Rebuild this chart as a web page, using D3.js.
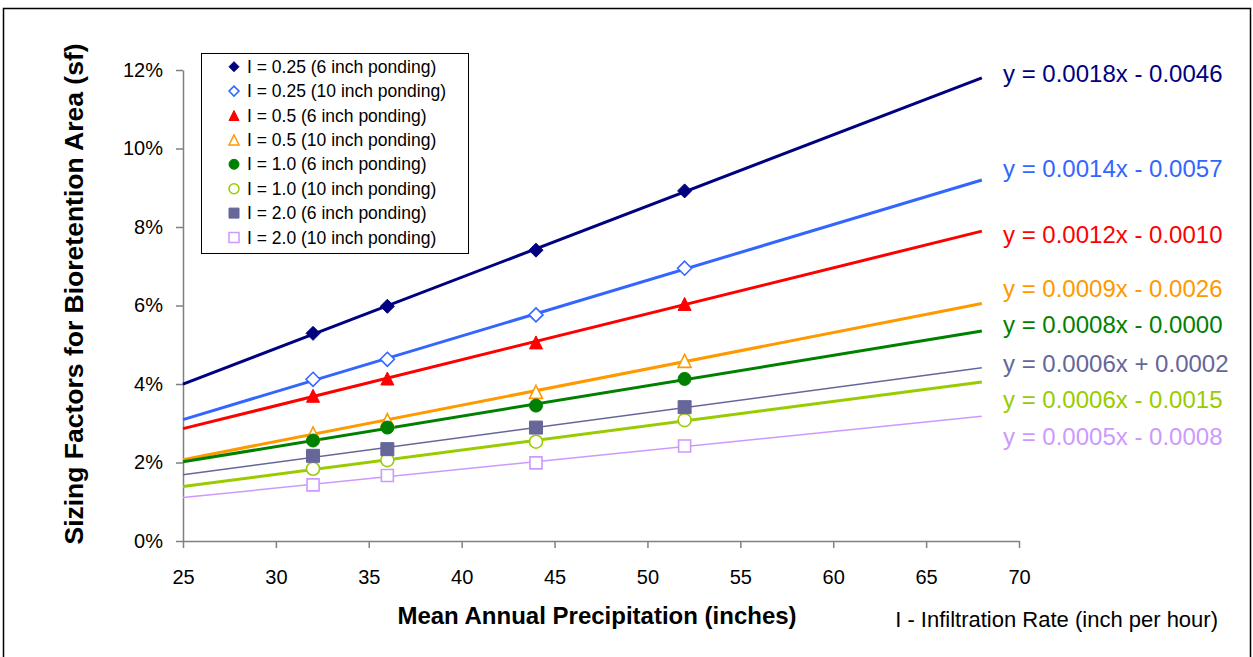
<!DOCTYPE html>
<html><head><meta charset="utf-8">
<script src="https://cdn.jsdelivr.net/npm/d3@7"></script>
<style>
html,body{margin:0;padding:0;background:#fff;}
svg text{font-family:Arial,"Liberation Sans",sans-serif;}
</style></head><body>
<svg id="chart" width="1253" height="657"></svg>
<script>
// ---------------- data ----------------
const precipitation = [32, 36, 44, 52];
const xTickValues = [25, 30, 35, 40, 45, 50, 55, 60, 65, 70];
const yTickValues = [0, 0.02, 0.04, 0.06, 0.08, 0.10, 0.12];
const seriesLabels = [
  "I = 0.25 (6 inch ponding)",
  "I = 0.25 (10 inch ponding)",
  "I = 0.5 (6 inch ponding)",
  "I = 0.5 (10 inch ponding)",
  "I = 1.0 (6 inch ponding)",
  "I = 1.0 (10 inch ponding)",
  "I = 2.0 (6 inch ponding)",
  "I = 2.0 (10 inch ponding)"
];
const sfI025_6in  = [0.0529, 0.0598, 0.0741, 0.0892];
const sfI025_10in = [0.0412, 0.0463, 0.0576, 0.0695];
const sfI05_6in   = [0.0370, 0.0414, 0.0506, 0.0604];
const sfI05_10in  = [0.0274, 0.0308, 0.0380, 0.0459];
const sfI10_6in   = [0.0256, 0.0289, 0.0345, 0.0413];
const sfI10_10in  = [0.0184, 0.0206, 0.0253, 0.0308];
const sfI20_6in   = [0.0217, 0.0234, 0.0289, 0.0341];
const sfI20_10in  = [0.0143, 0.0167, 0.0199, 0.0242];
// trendline equations, in the same order as the series
const trendEquations = [
  "y = 0.0018x - 0.0046",
  "y = 0.0014x - 0.0057",
  "y = 0.0012x - 0.0010",
  "y = 0.0009x - 0.0026",
  "y = 0.0008x - 0.0000",
  "y = 0.0006x - 0.0015",
  "y = 0.0006x + 0.0002",
  "y = 0.0005x - 0.0008"
];
const trendRange = [25, 68];
const xTitle = "Mean Annual Precipitation (inches)";
const yTitle = "Sizing Factors for Bioretention Area (sf)";
const noteText = "I - Infiltration Rate (inch per hour)";

// ---------------- styles / layout ----------------
const seriesValues = [sfI025_6in, sfI025_10in, sfI05_6in, sfI05_10in, sfI10_6in, sfI10_10in, sfI20_6in, sfI20_10in];
const colors = ["#000080", "#3366FF", "#FF0000", "#FF9900", "#008000", "#99CC00", "#666699", "#CC99FF"];
const markerShapes = ["diamond", "diamond", "triangle", "triangle", "circle", "circle", "square", "square"];
const markerFilled = [true, false, true, false, true, false, true, false];
const lineWidths = [3, 3, 3, 3, 3, 3, 1.5, 1.5];
// label baseline per series (series order)
const eqLabelY = [82, 177, 243, 297, 333, 408, 372, 445];

const svg = d3.select("#chart");
const W = 1253, H = 657;
const plot = {left: 183, right: 1019, top: 70, bottom: 541};

svg.append("rect").attr("x", 0).attr("y", 0).attr("width", W).attr("height", H).attr("fill", "#fff");
svg.append("rect").attr("x", 3.5).attr("y", 8.5).attr("width", 1247).attr("height", 660)
  .attr("fill", "none").attr("stroke", "#000").attr("stroke-width", 1.5);

const x = d3.scaleLinear().domain([25, 70]).range([plot.left, plot.right]);
const y = d3.scaleLinear().domain([0, 0.12]).range([plot.bottom, plot.top]);

// axes
const yAxis = svg.append("g").attr("transform", `translate(${plot.left},0)`)
  .call(d3.axisLeft(y).tickValues(yTickValues).tickFormat(d3.format(".0%")).tickSize(7).tickSizeOuter(0).tickPadding(13));
const xAxis = svg.append("g").attr("transform", `translate(0,${plot.bottom})`)
  .call(d3.axisBottom(x).tickValues(xTickValues).tickFormat(d3.format("d")).tickSize(7).tickSizeOuter(0).tickPadding(22));
[xAxis, yAxis].forEach(g => {
  g.select(".domain").attr("stroke", "#808080").attr("stroke-width", 1.5);
  g.selectAll(".tick line").attr("stroke", "#808080").attr("stroke-width", 1.5);
  g.selectAll(".tick text").attr("fill", "#000").style("font-size", "20px")
    .style("font-family", "Arial, 'Liberation Sans', sans-serif");
});

// marker paths
function shapePath(i, s) {
  const r = s / 2, shape = markerShapes[i];
  if (shape === "diamond") return `M0,${-r}L${r},0L0,${r}L${-r},0Z`;
  if (shape === "triangle") return `M0,${-r}L${r},${r}L${-r},${r}Z`;
  if (shape === "square") return `M${-r},${-r}H${r}V${r}H${-r}Z`;
  return `M${r},0A${r},${r} 0 1,1 ${-r},0A${r},${r} 0 1,1 ${r},0Z`;
}

// least-squares trendline
function regress(xs, ys) {
  const mx = d3.mean(xs), my = d3.mean(ys);
  let sxy = 0, sxx = 0;
  xs.forEach((v, k) => { sxy += (v - mx) * (ys[k] - my); sxx += (v - mx) * (v - mx); });
  const b = sxy / sxx;
  return {b, a: my - b * mx};
}

const lineGen = d3.line().x(d => x(d[0])).y(d => y(d[1]));
seriesValues.forEach((vals, i) => {
  const {a, b} = regress(precipitation, vals);
  const pts = trendRange.map(v => [v, a + b * v]);
  svg.append("path").attr("d", lineGen(pts)).attr("fill", "none")
    .attr("stroke", colors[i]).attr("stroke-width", lineWidths[i]);
});

// markers
const markerSizes = [14, 14, 13, 13, 13, 13, 13, 12];
seriesValues.forEach((vals, i) => {
  svg.append("g").selectAll("path").data(vals).join("path")
    .attr("transform", (d, k) => `translate(${x(precipitation[k])},${y(d)})`)
    .attr("d", shapePath(i, markerSizes[i]))
    .attr("fill", markerFilled[i] ? colors[i] : "#fff")
    .attr("stroke", colors[i]).attr("stroke-width", markerFilled[i] ? 1 : 1.6);
});

// equations
trendEquations.forEach((eq, i) => {
  svg.append("text").attr("x", 1003).attr("y", eqLabelY[i])
    .attr("fill", colors[i]).style("font-size", "24px").text(eq);
});

// legend
const lg = svg.append("g");
lg.append("rect").attr("x", 201.5).attr("y", 53.5).attr("width", 267).attr("height", 200)
  .attr("fill", "#fff").attr("stroke", "#000").attr("stroke-width", 1);
seriesLabels.forEach((lab, i) => {
  const cy = 66.7 + i * 24.4;
  lg.append("path").attr("transform", `translate(234,${cy})`)
    .attr("d", shapePath(i, 10))
    .attr("fill", markerFilled[i] ? colors[i] : "#fff")
    .attr("stroke", colors[i]).attr("stroke-width", markerFilled[i] ? 1 : 1.5);
  lg.append("text").attr("x", 247).attr("y", cy + 6).attr("fill", "#000")
    .style("font-size", "17.5px").text(lab);
});

// titles
svg.append("text").attr("x", 597).attr("y", 624).attr("text-anchor", "middle")
  .style("font-size", "24px").style("font-weight", "bold").text(xTitle);
svg.append("text").attr("transform", "translate(83,294) rotate(-90)").attr("text-anchor", "middle")
  .style("font-size", "26.5px").style("font-weight", "bold").text(yTitle);
svg.append("text").attr("x", 1218).attr("y", 627).attr("text-anchor", "end")
  .style("font-size", "22px").text(noteText);
</script>
</body></html>
